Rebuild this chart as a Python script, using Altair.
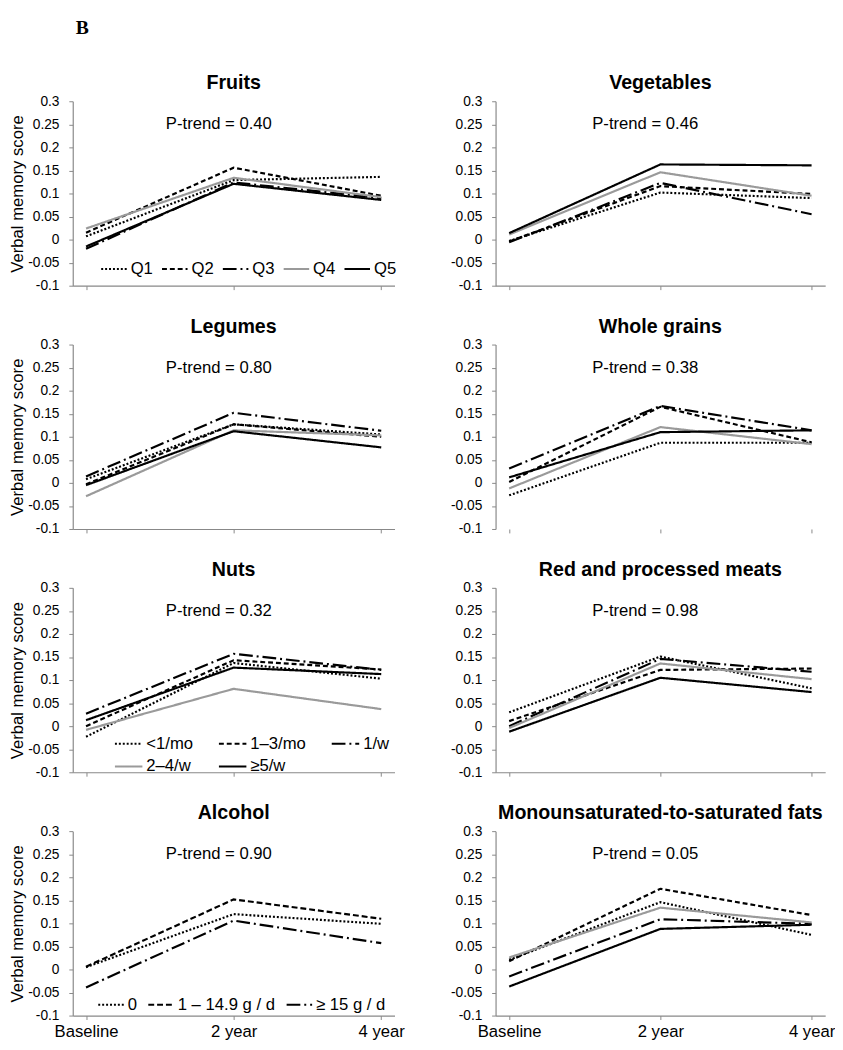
import json
import altair as alt
import pandas as pd

FONT = "Liberation Sans"

# ---------------- data ----------------
TIMES = ["Baseline", "2 year", "4 year"]
TIME_POS = [0, 1, 2]
Y_TICKS = [-0.1, -0.05, 0, 0.05, 0.1, 0.15, 0.2, 0.25, 0.3]

QUINTILES = ["Q1", "Q2", "Q3", "Q4", "Q5"]
NUTS_CATS = ["<1/mo", "1–3/mo", "1/w", "2–4/w", "≥5/w"]
ALC_CATS = ["0", "1 – 14.9 g / d", "≥ 15 g / d"]

PANEL_TITLES = ["Fruits", "Vegetables", "Legumes", "Whole grains", "Nuts",
                "Red and processed meats", "Alcohol",
                "Monounsaturated-to-saturated fats"]
PTRENDS = ["0.40", "0.46", "0.80", "0.38", "0.32", "0.98", "0.90", "0.05"]

fruits_q1 = [0.007, 0.129, 0.136]
fruits_q2 = [0.015, 0.156, 0.095]
fruits_q3 = [-0.020, 0.124, 0.090]
fruits_q4 = [0.024, 0.134, 0.092]
fruits_q5 = [-0.015, 0.121, 0.086]

veg_q1 = [-0.003, 0.102, 0.090]
veg_q2 = [-0.004, 0.116, 0.099]
veg_q3 = [-0.006, 0.123, 0.055]
veg_q4 = [0.011, 0.146, 0.095]
veg_q5 = [0.014, 0.163, 0.161]

leg_q1 = [0.008, 0.127, 0.105]
leg_q2 = [-0.003, 0.127, 0.100]
leg_q3 = [0.014, 0.152, 0.113]
leg_q4 = [-0.029, 0.114, 0.103]
leg_q5 = [-0.005, 0.112, 0.077]

wg_q1 = [-0.027, 0.087, 0.087]
wg_q2 = [0.002, 0.165, 0.088]
wg_q3 = [0.031, 0.167, 0.114]
wg_q4 = [-0.012, 0.121, 0.084]
wg_q5 = [0.012, 0.110, 0.114]

nuts_1 = [-0.023, 0.137, 0.103]
nuts_2 = [0.000, 0.143, 0.123]
nuts_3 = [0.027, 0.157, 0.122]
nuts_4 = [-0.008, 0.081, 0.037]
nuts_5 = [0.013, 0.127, 0.113]

meat_q1 = [0.030, 0.151, 0.082]
meat_q2 = [0.011, 0.122, 0.125]
meat_q3 = [0.000, 0.146, 0.118]
meat_q4 = [-0.004, 0.136, 0.102]
meat_q5 = [-0.012, 0.105, 0.074]

alc_0 = [0.005, 0.120, 0.099]
alc_1 = [0.006, 0.152, 0.110]
alc_2 = [-0.039, 0.106, 0.057]

mono_q1 = [0.021, 0.146, 0.075]
mono_q2 = [0.018, 0.175, 0.118]
mono_q3 = [-0.015, 0.109, 0.099]
mono_q4 = [0.026, 0.134, 0.102]
mono_q5 = [-0.037, 0.088, 0.097]

# ---------------- styles ----------------
DASH5 = [[2, 2], [5, 3], [14, 4, 2, 4], [1, 0], [1, 0]]
COL5 = ["#000000", "#000000", "#000000", "#9a9a9a", "#000000"]
DASH3 = [[2, 2], [6, 3], [14, 4, 2, 4]]
COL3 = ["#000000", "#000000", "#000000"]

X_LABEL_EXPR = json.dumps(TIMES) + "[datum.value]"
Y_LABEL_EXPR = ("datum.value < 0 ? '-' + format(-datum.value, '~g') "
                ": format(datum.value, '~g')")

H = 188


def make_legend(x, y, cols, sym, colpad):
    return alt.Legend(orient="none", legendX=x, legendY=y, direction="horizontal",
                      columns=cols, title=None, symbolType="stroke",
                      symbolSize=sym * sym, symbolStrokeWidth=2,
                      labelFontSize=17, labelFont=FONT, labelColor="black",
                      columnPadding=colpad, rowPadding=0, labelOffset=3,
                      padding=0, labelLimit=300)


def panel(title, cats, series, ptrend, dashes, colors, width, left, bottom,
          legend=None, domain=True):
    rows = []
    for c, vals in zip(cats, series):
        for t, v in zip(TIME_POS, vals):
            rows.append({"series": c, "t": t, "value": v})
    df = pd.DataFrame(rows)

    xaxis = alt.Axis(values=TIME_POS, labelExpr=X_LABEL_EXPR, labels=bottom,
                     title=None, tickSize=4, labelFontSize=17, labelFont=FONT,
                     labelColor="black", labelPadding=4, domain=domain,
                     grid=False)
    yargs = dict(values=Y_TICKS, labelExpr=Y_LABEL_EXPR, tickSize=4,
                 labelFontSize=14, labelFont=FONT, labelColor="black",
                 labelPadding=10, grid=False)
    if left:
        yaxis = alt.Axis(title="Verbal memory score", titleFontSize=17,
                         titleFont=FONT, titleFontWeight="normal",
                         titleColor="black", titleX=-47, titleY=H / 2,
                         **yargs)
    else:
        yaxis = alt.Axis(title=None, **yargs)

    X = alt.X("t:Q", scale=alt.Scale(domain=[-0.09, 2.09], nice=False, zero=False),
              axis=xaxis)
    Y = alt.Y("value:Q", scale=alt.Scale(domain=[-0.1, 0.3], nice=False, zero=False),
              axis=yaxis)

    lines = alt.Chart(df).mark_line(strokeWidth=2.2).encode(
        x=X, y=Y,
        strokeDash=alt.StrokeDash("series:N", sort=cats,
                                  scale=alt.Scale(domain=cats, range=dashes),
                                  legend=legend),
        color=alt.Color("series:N", sort=cats,
                        scale=alt.Scale(domain=cats, range=colors),
                        legend=legend),
    )
    tdf = pd.DataFrame({"t": [0.9], "value": [0.25], "label": ["P-trend = " + ptrend]})
    txt = alt.Chart(tdf).mark_text(fontSize=17, font=FONT, color="black",
                                   align="center", baseline="middle").encode(
        x=X, y=Y, text="label:N")
    return alt.layer(lines, txt).properties(
        width=width, height=H,
        title=alt.Title(title, fontSize=20, font=FONT, fontWeight="bold",
                        color="black", offset=1))


WL, WR = 328, 336

panels = [
    panel(PANEL_TITLES[0], QUINTILES, [fruits_q1, fruits_q2, fruits_q3, fruits_q4, fruits_q5],
          PTRENDS[0], DASH5, COL5, WL, True, False,
          legend=make_legend(28, 157, 5, 26, 5)),
    panel(PANEL_TITLES[1], QUINTILES, [veg_q1, veg_q2, veg_q3, veg_q4, veg_q5],
          PTRENDS[1], DASH5, COL5, WR, False, False),
    panel(PANEL_TITLES[2], QUINTILES, [leg_q1, leg_q2, leg_q3, leg_q4, leg_q5],
          PTRENDS[2], DASH5, COL5, WL, True, False),
    panel(PANEL_TITLES[3], QUINTILES, [wg_q1, wg_q2, wg_q3, wg_q4, wg_q5],
          PTRENDS[3], DASH5, COL5, WR, False, False, domain=False),
    panel(PANEL_TITLES[4], NUTS_CATS, [nuts_1, nuts_2, nuts_3, nuts_4, nuts_5],
          PTRENDS[4], DASH5, COL5, WL, True, False,
          legend=make_legend(42, 144, 3, 28, 22)),
    panel(PANEL_TITLES[5], QUINTILES, [meat_q1, meat_q2, meat_q3, meat_q4, meat_q5],
          PTRENDS[5], DASH5, COL5, WR, False, False),
    panel(PANEL_TITLES[6], ALC_CATS, [alc_0, alc_1, alc_2],
          PTRENDS[6], DASH3, COL3, WL, True, True,
          legend=make_legend(25, 163, 3, 26, 7)),
    panel(PANEL_TITLES[7], QUINTILES, [mono_q1, mono_q2, mono_q3, mono_q4, mono_q5],
          PTRENDS[7], DASH5, COL5, WR, False, True),
]

chart = alt.concat(*panels, columns=2, spacing={"row": 60, "column": 103},
                   bounds="flush").resolve_scale(
    color="independent", strokeDash="independent"
).properties(
    padding=0,
    title=alt.Title("B", font="Liberation Serif", fontSize=20, fontWeight="bold",
                    color="black", anchor="start", dx=68, offset=37),
).configure_view(stroke=None).configure_axis(
    domainColor="#888888", tickColor="#888888", domainWidth=1.2
)

chart.save("out.html", embed_options={"renderer": "svg", "actions": False})
